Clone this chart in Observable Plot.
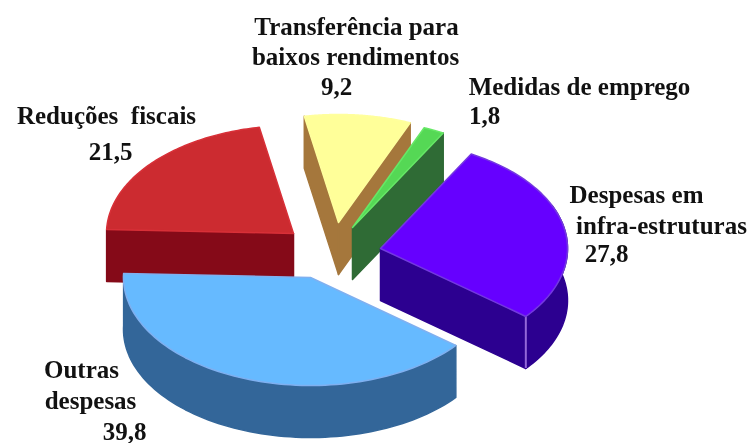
<!DOCTYPE html>
<html>
<head>
<meta charset="utf-8">
<script src="https://cdn.jsdelivr.net/npm/d3@7"></script>
<script src="https://cdn.jsdelivr.net/npm/@observablehq/plot@0.6"></script>
<style>
html,body{margin:0;padding:0;background:#fff}
svg{display:block;filter:blur(0.45px)}
</style>
</head>
<body>
<div id="chart"></div>
<script>
// Data
const categories = ["Outras despesas","Reduções fiscais","Transferência para baixos rendimentos","Medidas de emprego","Despesas em infra-estruturas"];
const values = [39.8,21.5,9.2,1.8,27.8];
// Styling
const topColors = ["#66baff","#cc2b30","#ffff99","#55d855","#6600ff"];
const wallColors = ["#336699","#850a18","#a5773c","#2f6b35","#2c0090"];
const edgeColors = ["#7fb0f0","#d83038","#ffff9e","#66e866","#7438e0"];
const cornerColor = "#9468d8";
// Exploded-slice layout
const apexX = [310,293,338,352,380];
const apexY = [277,233,222,227,248];
const wallStart = [false,true,true,false,false];
const wallEnd = [false,false,true,true,true];
const wallFront = [true,false,false,false,true];
const drawOrder = [1,2,3,4,0];
const rx = 187, ry = 108, depth = 52;
// Labels
const labelLines = ["Transferência para","baixos rendimentos","9,2","Medidas de emprego","1,8","Reduções\u00a0\u00a0fiscais","21,5","Despesas em","infra-estruturas","27,8","Outras","despesas","39,8"];
const labelX = [356,355,336,579,484,106,110,636,661,606,81,90,124];
const labelY = [26,56,86,86,115,115,151,194,225,253,369,400,431];

const arcs = d3.pie().sort(null).value(d => d)
  .startAngle(129 * Math.PI / 180).endAngle((129 + 360) * Math.PI / 180)(values);

const parts = [];
const corners = [];
let id = 0;
function addPart(pts, fill, stroke) {
  const z = id++;
  pts.forEach(p => parts.push({x: p[0], y: p[1], z, fill, stroke}));
}
for (const i of drawOrder) {
  const a = arcs[i];
  const ax = apexX[i], ay = apexY[i];
  const pt = t => [ax + rx * Math.sin(t), ay - ry * Math.cos(t)];
  const down = p => [p[0], p[1] + depth];
  const n = 80;
  const arcPts = d3.range(n + 1).map(k => pt(a.startAngle + (a.endAngle - a.startAngle) * k / n));
  const apex = [ax, ay];
  if (wallStart[i]) addPart([apex, arcPts[0], down(arcPts[0]), down(apex)], wallColors[i], wallColors[i]);
  if (wallEnd[i]) addPart([apex, arcPts[n], down(arcPts[n]), down(apex)], wallColors[i], wallColors[i]);
  if (wallFront[i]) {
    const front = arcPts.filter(p => p[1] >= ay - 5 || i === 4 && p[0] > ax + 170);
    addPart([...front, ...front.map(down).reverse()], wallColors[i], wallColors[i]);
  }
  addPart([apex, ...arcPts], topColors[i], edgeColors[i]);
  if (i === 4) corners.push({x: arcPts[n][0], y1: arcPts[n][1], y2: arcPts[n][1] + depth});
}

const labels = labelLines.map((text, i) => ({text, x: labelX[i], y: labelY[i]}));

const chart = Plot.plot({
  width: 753, height: 443,
  margin: 0,
  x: {domain: [0, 753], range: [0, 753], axis: null},
  y: {domain: [0, 443], range: [0, 443], axis: null},
  style: {background: "#fff"},
  marks: [
    Plot.line(parts.filter(p => p.z < id - 3), {x: "x", y: "y", z: "z", fill: "fill", stroke: "stroke", strokeWidth: 1.5, curve: "linear-closed"}),
    Plot.ruleX(corners, {x: "x", y1: "y1", y2: "y2", stroke: cornerColor, strokeWidth: 2}),
    Plot.line(parts.filter(p => p.z >= id - 3), {x: "x", y: "y", z: "z", fill: "fill", stroke: "stroke", strokeWidth: 1.5, curve: "linear-closed"}),
    Plot.text(labels, {x: "x", y: "y", text: "text", fontFamily: "Liberation Serif", fontWeight: "bold", fontSize: 25, fill: "#111", textAnchor: "middle"})
  ]
});
document.getElementById("chart").append(chart);
</script>
</body>
</html>
